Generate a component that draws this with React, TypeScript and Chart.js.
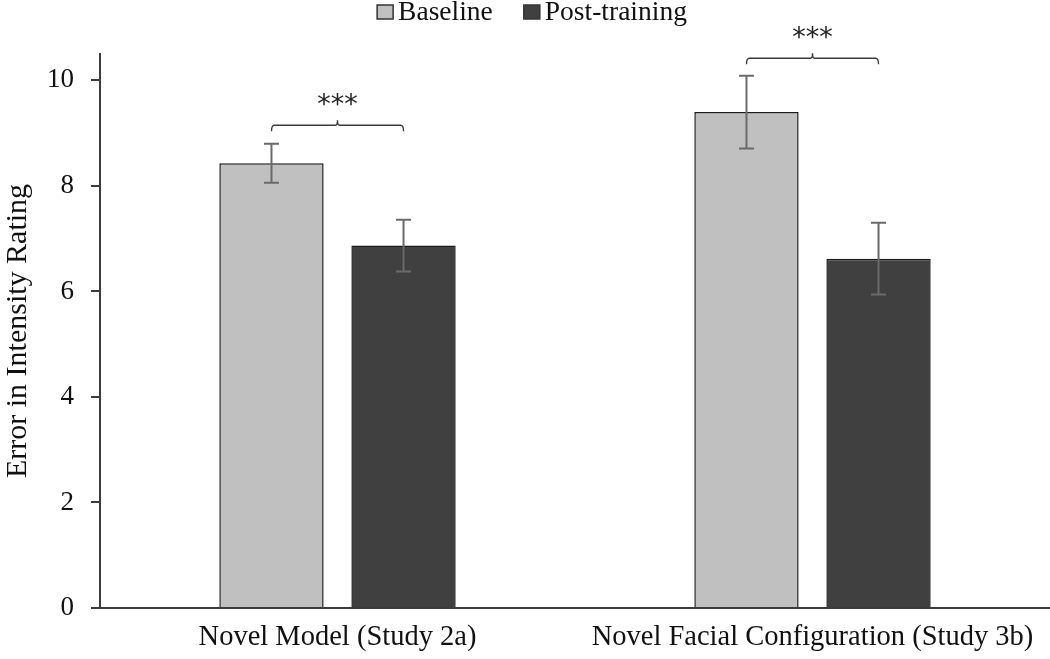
import React, { useEffect, useRef } from "react";
import { Chart, registerables } from "chart.js";

Chart.register(...registerables);

const categories = ["Novel Model (Study 2a)", "Novel Facial Configuration (Study 3b)"];
const seriesNames = ["Baseline", "Post-training"];
const seriesColors = ["#c0c0c0", "#404040"];
const baselineValues = [8.43, 9.4];
const postValues = [6.87, 6.62];
const baselineErrors = [0.37, 0.69];
const postErrors = [0.49, 0.68];
const sigLabels = ["***", "***"];
const sigLevels = [9.15, 10.42];
const yTicks = [0, 2, 4, 6, 8, 10];

const SERIF = "'Liberation Serif', 'Times New Roman', serif";

const legendPlugin = {
  id: "customLegend",
  afterDraw(chart: any) {
    const ctx = chart.ctx;
    ctx.save();
    ctx.font = `27.5px ${SERIF}`;
    ctx.textBaseline = "middle";
    ctx.textAlign = "left";
    const boxW = 16;
    const boxH = 14;
    const gapBoxText = 5;
    const gapItems = 31;
    const widths = seriesNames.map((n) => ctx.measureText(n).width);
    const total = widths.reduce((a, w) => a + boxW + gapBoxText + w, 0) + gapItems * (seriesNames.length - 1);
    let x = 532 - total / 2;
    const cy = 12;
    seriesNames.forEach((name, i) => {
      ctx.fillStyle = seriesColors[i];
      ctx.fillRect(x, cy - boxH / 2, boxW, boxH);
      ctx.strokeStyle = "#333";
      ctx.lineWidth = 1.5;
      ctx.strokeRect(x, cy - boxH / 2, boxW, boxH);
      ctx.fillStyle = "#111";
      ctx.fillText(name, x + boxW + gapBoxText, cy + 1);
      x += boxW + gapBoxText + widths[i] + gapItems;
    });
    ctx.restore();
  },
};

const errorBarPlugin = {
  id: "errorBars",
  afterDatasetsDraw(chart: any) {
    const ctx = chart.ctx;
    const y = chart.scales.y;
    const errs = [baselineErrors, postErrors];
    const vals = [baselineValues, postValues];
    ctx.save();
    ctx.strokeStyle = "#6a6a6a";
    ctx.lineWidth = 2;
    for (let d = 0; d < 2; d++) {
      const meta = chart.getDatasetMeta(d);
      meta.data.forEach((bar: any, i: number) => {
        const x = bar.x;
        const top = y.getPixelForValue(vals[d][i] + errs[d][i]);
        const bot = y.getPixelForValue(vals[d][i] - errs[d][i]);
        ctx.beginPath();
        ctx.moveTo(x, top);
        ctx.lineTo(x, bot);
        ctx.moveTo(x - 7.5, top);
        ctx.lineTo(x + 7.5, top);
        ctx.moveTo(x - 7.5, bot);
        ctx.lineTo(x + 7.5, bot);
        ctx.stroke();
      });
    }
    const m0 = chart.getDatasetMeta(0);
    const m1 = chart.getDatasetMeta(1);
    ctx.strokeStyle = "#3a3a3a";
    ctx.lineWidth = 1.4;
    ctx.fillStyle = "#222";
    ctx.font = "27px 'DejaVu Sans', sans-serif";
    ctx.textAlign = "center";
    ctx.textBaseline = "middle";
    categories.forEach((_, i) => {
      const x0 = m0.data[i].x;
      const x1 = m1.data[i].x;
      const yy = y.getPixelForValue(sigLevels[i]);
      const xm = (x0 + x1) / 2;
      ctx.beginPath();
      ctx.moveTo(x0, yy + 6);
      ctx.quadraticCurveTo(x0, yy, x0 + 3, yy);
      ctx.lineTo(xm - 2, yy);
      ctx.quadraticCurveTo(xm, yy, xm, yy - 5);
      ctx.quadraticCurveTo(xm, yy, xm + 2, yy);
      ctx.lineTo(x1 - 3, yy);
      ctx.quadraticCurveTo(x1, yy, x1, yy + 6);
      ctx.stroke();
      ctx.fillText(sigLabels[i], xm, yy - 19);
    });
    ctx.restore();
  },
};

export default function App() {
  const ref = useRef<HTMLCanvasElement>(null);
  useEffect(() => {
    if (!ref.current) return;
    const chart = new Chart(ref.current, {
      type: "bar",
      data: {
        labels: categories,
        datasets: [
          {
            label: seriesNames[0],
            data: baselineValues,
            backgroundColor: seriesColors[0],
            borderColor: "#1a1a1a",
            borderWidth: 1.5,
            categoryPercentage: 0.556,
            barPercentage: 0.79,
          },
          {
            label: seriesNames[1],
            data: postValues,
            backgroundColor: seriesColors[1],
            borderColor: "#1a1a1a",
            borderWidth: 1.5,
            categoryPercentage: 0.556,
            barPercentage: 0.79,
          },
        ],
      },
      options: {
        animation: false,
        responsive: false,
        maintainAspectRatio: false,
        layout: { padding: { left: 0, right: 0, top: 54, bottom: 0 } },
        plugins: {
          legend: { display: false },
          tooltip: { enabled: false },
        },
        scales: {
          x: {
            grid: { display: false, drawTicks: false },
            border: { display: true, color: "#3c3c3c", width: 2 },
            ticks: {
              font: { family: SERIF, size: 28.5 },
              color: "#111",
              padding: 12,
              maxRotation: 0,
            },
            afterFit: (s: any) => {
              s.height = 51;
            },
          },
          y: {
            min: 0,
            max: 10.5,
            afterBuildTicks: (s: any) => {
              s.ticks = yTicks.map((v) => ({ value: v }));
            },
            grid: {
              drawOnChartArea: false,
              drawTicks: true,
              tickLength: 9,
              color: "#3c3c3c",
              lineWidth: 2,
            },
            border: { display: true, color: "#3c3c3c", width: 2 },
            ticks: {
              font: { family: SERIF, size: 27 },
              color: "#111",
              padding: 17,
            },
            title: {
              display: true,
              text: "Error in Intensity Rating",
              font: { family: SERIF, size: 30 },
              color: "#111",
              padding: { top: 0, bottom: 0 },
            },
            afterFit: (s: any) => {
              s.width = 100;
            },
          },
        },
      },
      plugins: [errorBarPlugin, legendPlugin],
    });
    return () => chart.destroy();
  }, []);
  return (
    <div style={{ position: "fixed", left: 0, top: 0, width: 1050, height: 659, background: "#fff" }}>
      <canvas ref={ref} width={1050} height={659} style={{ display: "block" }} />
    </div>
  );
}
